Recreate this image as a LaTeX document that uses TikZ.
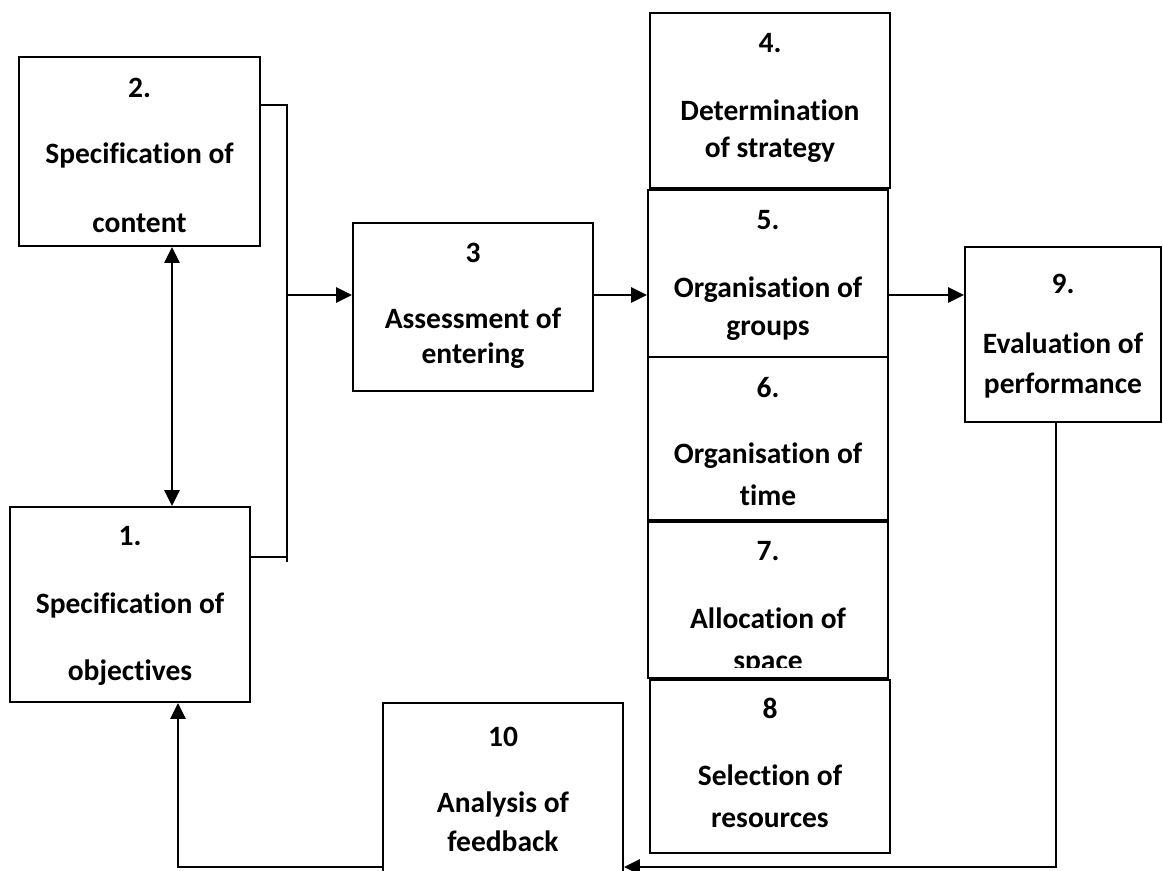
\documentclass[tikz,border=0pt]{standalone}
\usepackage{fontspec}
\setmainfont{Carlito}[RawFeature=-liga]
\usetikzlibrary{arrows.meta,fit}
\begin{document}
\begin{tikzpicture}[x=0.02cm,y=-0.02cm,
  box/.style={draw, line width=1.1pt, inner sep=0pt},
  lbl/.style={anchor=base, inner sep=0pt, font=\fontsize{16.8}{18}\selectfont\bfseries},
  conn/.style={line width=1.5pt},
  tip/.tip={Triangle[length=9pt,width=8.5pt]},
  arr/.style={conn, -tip},
  darr/.style={conn, tip-tip},
]
\useasboundingbox (0,0) rectangle (1163,870);
\clip (0,0) rectangle (1163,870);

% boxes
\node[box, fit={(19,57) (260,246)}] (b2) {};
\node[box, fit={(10,507) (250,702)}] (b1) {};
\node[box, fit={(353,223) (593,391)}] (b3) {};
\node[box, fit={(650,13) (890,188)}] (b4) {};
\node[box, fit={(648,190) (888,357)}] (b5) {};
\node[box, fit={(648,357) (888,520)}] (b6) {};
\node[box, fit={(648,522) (888,678)}] (b7) {};
\node[box, fit={(650,680) (890,853)}] (b8) {};
\node[box, fit={(965,247) (1161,422)}] (b9) {};
\node[box, fit={(383,703) (623,885)}] (b10) {};

% texts
\node[lbl] (t2a) at (139.5,97) {2.};
\node[lbl] (t2b) at (139.5,163) {Specification of};
\node[lbl] (t2c) at (139.5,232) {content};

\node[lbl] (t1a) at (130,545) {1.};
\node[lbl] (t1b) at (130,613) {Specification of};
\node[lbl] (t1c) at (130,680) {objectives};

\node[lbl] (t3a) at (473,262) {3};
\node[lbl] (t3b) at (473,328) {Assessment of};
\node[lbl] (t3c) at (473,363) {entering};

\node[lbl] (t4a) at (770,52) {4.};
\node[lbl] (t4b) at (770,120) {Determination};
\node[lbl] (t4c) at (770,157) {of strategy};

\node[lbl] (t5a) at (768,229) {5.};
\node[lbl] (t5b) at (768,297) {Organisation of};
\node[lbl] (t5c) at (768,335) {groups};

\node[lbl] (t6a) at (768,397) {6.};
\node[lbl] (t6b) at (768,463) {Organisation of};
\node[lbl] (t6c) at (768,505) {time};

\node[lbl] (t7a) at (768,560) {7.};
\node[lbl] (t7b) at (768,628) {Allocation of};
\begin{scope}
  \clip (648,522) rectangle (888,667);
  \node[lbl] (t7c) at (768,670) {space};
\end{scope}

\node[lbl] (t8a) at (770,718) {8};
\node[lbl] (t8b) at (770,785) {Selection of};
\node[lbl] (t8c) at (770,827) {resources};

\node[lbl] (t9a) at (1063,293) {9.};
\node[lbl] (t9b) at (1063,353) {Evaluation of};
\node[lbl] (t9c) at (1063,393) {performance};

\node[lbl] (t10a) at (503,746) {10};
\node[lbl] (t10b) at (503,812) {Analysis of};
\node[lbl] (t10c) at (503,851) {feedback};

% helper coordinates
\coordinate (xd) at (172,0);
\coordinate (br) at (287,105);
\coordinate (brb) at (287,562);
\coordinate (b1r) at (287,557);
\coordinate (bm) at (287,295);
\coordinate (fb) at (1056,867);
\coordinate (lb) at (178,867);

% connectors
\draw[darr] (xd |- b2.south) -- (xd |- b1.north);
\draw[conn] (b2.east |- br) -- (br) -- (brb);
\draw[conn] (b1.east |- b1r) -- (b1r);
\draw[arr] (bm) -- (bm -| b3.west);
\draw[arr] (b3.east |- bm) -- (b5.west |- bm);
\draw[arr] (b5.east |- bm) -- (b9.west |- bm);
\draw[arr] (fb |- b9.south) -- (fb) -- (fb -| b10.east);
\draw[arr] (b10.west |- lb) -- (lb) -- (lb |- b1.south);
\end{tikzpicture}
\end{document}
